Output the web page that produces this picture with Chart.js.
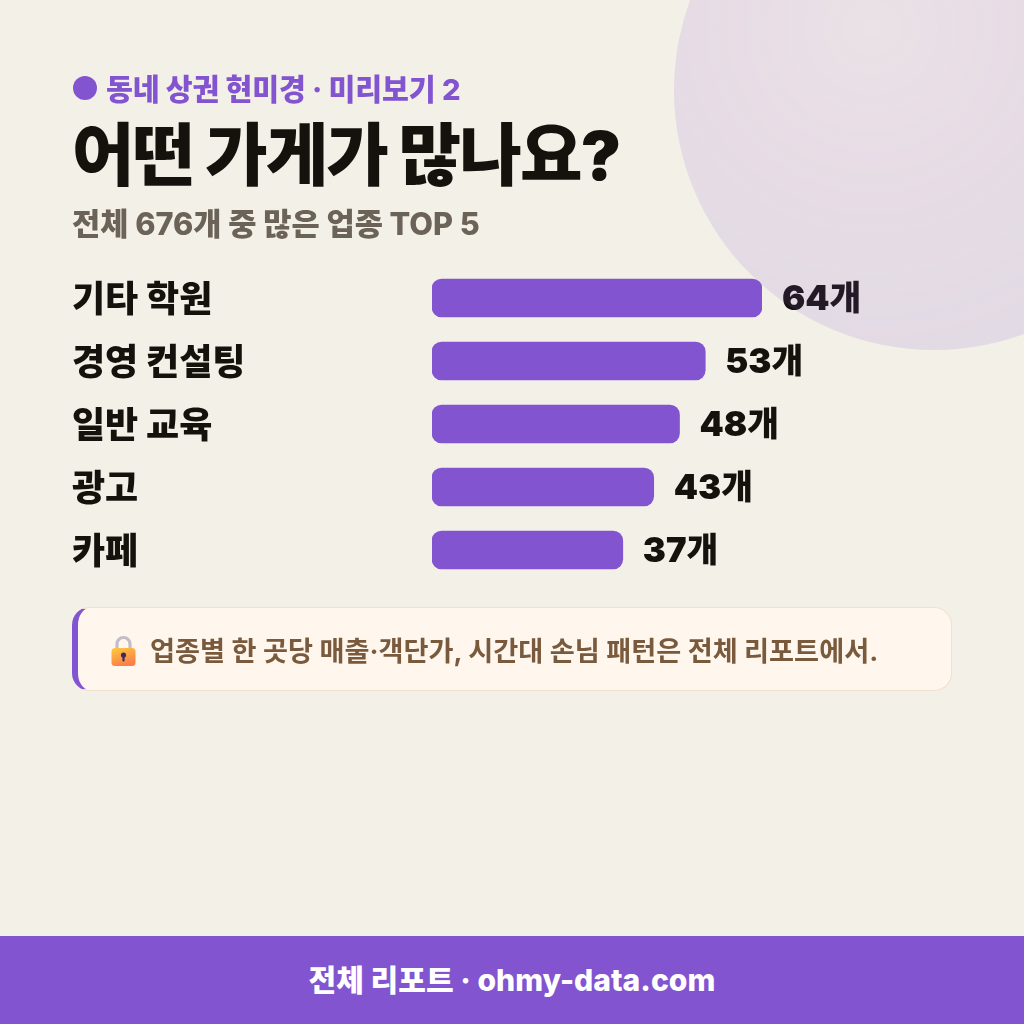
<!DOCTYPE html>
<html lang="ko">
<head>
<meta charset="utf-8">
<title>어떤 가게가 많나요?</title>
<script src="https://cdn.jsdelivr.net/npm/chart.js@4"></script>
<style>
  * { box-sizing: border-box; margin: 0; padding: 0; }
  html, body { width: 1024px; height: 1024px; overflow: hidden; background: #f3f0e8; }
  body { position: relative; font-family: "Inter", "Noto Sans CJK KR", sans-serif; color: #15120d; }
  .abs { position: absolute; white-space: nowrap; will-change: transform; }
  .blob { position: absolute; left: 674px; top: -170px; width: 520px; height: 520px; border-radius: 50%;
          background: radial-gradient(circle at 38% 38%, rgba(130,60,212,.08) 0, rgba(133,60,212,.1) 25%, rgba(130,85,205,.14) 70%);
          pointer-events: none; z-index: 5; }
  .dot { left: 73px; top: 76px; width: 24px; height: 24px; border-radius: 50%; background: #8254d0; }
  .eyebrow { left: 106px; top: 71px; font-size: 29.2px; line-height: 38px; font-weight: 800; color: #8254d0; letter-spacing: -.1px; }
  h1 { left: 72px; top: 110px; font-size: 68px; line-height: 90px; font-weight: 900; letter-spacing: -1.9px; }
  .sub { left: 72px; top: 203px; font-size: 30.7px; line-height: 42px; font-weight: 800; color: #6b6358; }
  #chartBox { position: absolute; left: 72px; top: 266px; width: 880px; height: 316px; }
  .note { position: absolute; left: 72px; top: 607px; width: 880px; height: 84px; background: #fff7ee;
          border: 1px solid #f0e0cc; border-left: 6px solid #8254d0; border-radius: 18px; }
  .lock { left: 110px; top: 635px; width: 27px; height: 32px; }
  .noteText { left: 150px; top: 631px; font-size: 27.2px; line-height: 42px; font-weight: 700; color: #7a5a3c; }
  .footer { position: absolute; left: 0; top: 936px; width: 1024px; height: 88px; background: #8254d0; color: #fff;
            font-size: 30.1px; font-weight: 800; line-height: 89px; text-align: center; }
</style>
</head>
<body>
<div class="abs dot"></div>
<div class="abs eyebrow">동네 상권 현미경 · 미리보기 2</div>
<h1 class="abs">어떤 가게가 많나요?</h1>
<div class="abs sub">전체 676개 중 많은 업종 TOP 5</div>
<div id="chartBox"><canvas id="bars"></canvas></div>
<div class="note"></div>
<svg class="abs lock" viewBox="0 0 27 32">
  <defs><linearGradient id="lockBody" x1="0" y1="0" x2="0.4" y2="1">
    <stop offset="0" stop-color="#ffcb3d"/><stop offset="1" stop-color="#fb7f4a"/>
  </linearGradient></defs>
  <path d="M7 15V9a6.5 6.5 0 0 1 13 0v6" fill="none" stroke="#c3bcc9" stroke-width="3.2"/>
  <rect x="1.5" y="13" width="24" height="18" rx="3.5" fill="url(#lockBody)"/>
  <circle cx="13.5" cy="20" r="2.6" fill="#3a2c5c"/>
  <rect x="12.4" y="20" width="2.2" height="6.5" rx="1" fill="#3a2c5c"/>
</svg>
<div class="abs noteText">업종별 한 곳당 매출·객단가, 시간대 손님 패턴은 전체 리포트에서.</div>
<div class="footer">전체 리포트 · ohmy-data.com</div>
<div class="blob"></div>

<script>
const categories = ["기타 학원", "경영 컨설팅", "일반 교육", "광고", "카페"];
const counts = [64, 53, 48, 43, 37];

const PURPLE = "#8254d0";
const INK = "#15120d";
const FONT = "'Inter', 'Noto Sans CJK KR', sans-serif";

// category names on the left and "64개" just past the end of each bar
const rowLabels = {
  id: "rowLabels",
  afterDatasetsDraw(chart) {
    const { ctx } = chart;
    const yAxis = chart.scales.y;
    ctx.save();
    ctx.fillStyle = INK;
    ctx.textBaseline = "middle";
    ctx.font = "800 36px " + FONT;
    categories.forEach((name, i) => {
      ctx.fillText(name, 0, yAxis.getPixelForTick(i) + 3);
    });
    ctx.font = "900 34.6px " + FONT;
    chart.getDatasetMeta(0).data.forEach((bar, i) => {
      ctx.fillText(counts[i] + "개", bar.x + 20, bar.y + 2);
    });
    ctx.restore();
  }
};

new Chart(document.getElementById("bars"), {
  type: "bar",
  data: {
    labels: categories,
    datasets: [{
      data: counts,
      backgroundColor: PURPLE,
      borderRadius: 10,
      borderSkipped: false,
      barThickness: 38
    }]
  },
  options: {
    indexAxis: "y",
    responsive: true,
    maintainAspectRatio: false,
    animation: false,
    layout: { padding: { top: 0.5, bottom: 0.5, right: 190 } },
    plugins: { legend: { display: false }, tooltip: { enabled: false } },
    scales: {
      x: { display: false, min: 0, max: 64 },
      y: {
        grid: { display: false },
        border: { display: false },
        afterFit(scale) {
          scale.width = 360;
          // no room needed for tick text, rowLabels writes the names
          scale.paddingTop = 0;
          scale.paddingBottom = 0;
        },
        ticks: { display: false }
      }
    }
  },
  plugins: [rowLabels]
});
</script>
</body>
</html>
